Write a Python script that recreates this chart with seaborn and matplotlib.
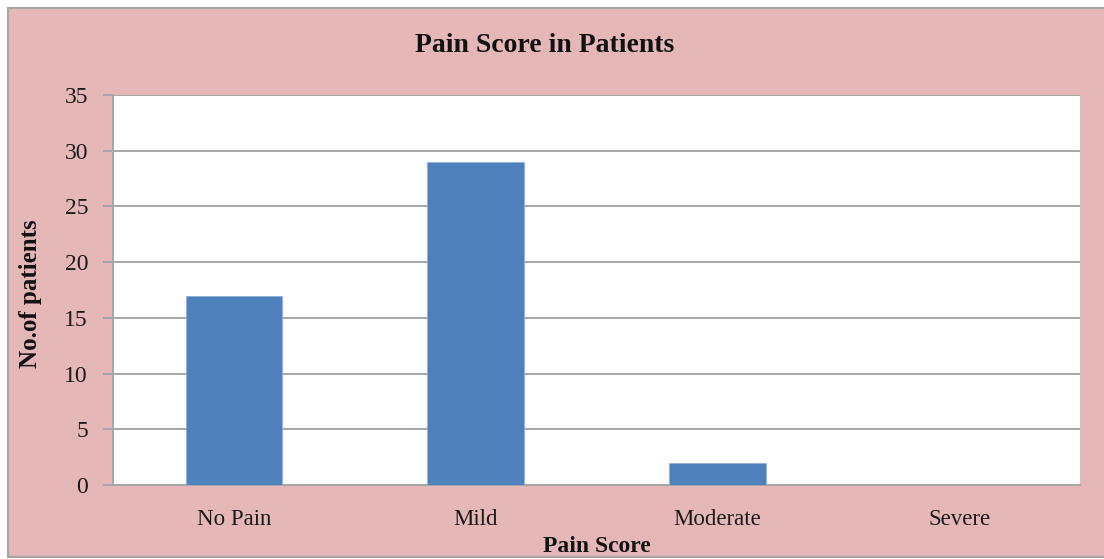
#Bar chart of pain score in patients, redrawn with seaborn.

import pandas as pd
import matplotlib
matplotlib.use('Agg')
import matplotlib.pyplot as plt
from matplotlib.patches import Rectangle
import seaborn as sns

#Data.
pain_scores = ['No Pain', 'Mild', 'Moderate', 'Severe']
patient_counts = [17, 29, 2, 0]
y_ticks = [0, 5, 10, 15, 20, 25, 30, 35]

df = pd.DataFrame({'Pain Score': pain_scores, 'Patients': patient_counts})

sns.set_theme(style='white')
plt.rcParams['font.family'] = ['Liberation Serif', 'DejaVu Serif']

grid_grey = '#A6A6A6'
pink = '#E6B7B7'
W, H = 1104, 559

fig = plt.figure(figsize=(W / 100, H / 100), dpi=100)
fig.patch.set_facecolor('white')

#Pink chart area with a thin grey frame, like the spreadsheet chart box.
frame = Rectangle((8 / W, 2 / H), 1.2, (H - 10) / H, transform=fig.transFigure,
                  facecolor=pink, edgecolor=grid_grey, linewidth=1.5, zorder=-5)
fig.patches.append(frame)

ax = fig.add_axes([113 / W, (H - 485) / H, (1080 - 113) / W, (485 - 95) / H])
ax.set_facecolor('white')

sns.barplot(data=df, x='Pain Score', y='Patients', color='#4F81BD', width=0.4,
            saturation=1, edgecolor='#8EB0DA', linewidth=0.6, ax=ax, zorder=3)

ax.set_ylim(0, 35)
ax.set_xlim(-0.5, 3.5)
ax.set_yticks(y_ticks)
ax.yaxis.grid(True, color=grid_grey, linewidth=1.4, zorder=0)
ax.set_axisbelow(True)

for side in ['top', 'right']:
    ax.spines[side].set_visible(False)
for side in ['left', 'bottom']:
    ax.spines[side].set_color(grid_grey)
    ax.spines[side].set_linewidth(1.4)

#Category labels sit between tick marks placed at the category boundaries.
ax.set_xticks([-0.5, 0.5, 1.5, 2.5, 3.5], minor=True)
ax.tick_params(axis='x', which='major', length=0, pad=17, labelsize=16.5, labelcolor='#1a1a1a')
ax.tick_params(axis='x', which='minor', length=6, width=1.4, color=grid_grey, direction='out')
ax.tick_params(axis='y', which='major', length=7, width=1.4, color=grid_grey, direction='out',
               left=True, pad=11, labelsize=17, labelcolor='#1a1a1a')

#Title is centred on the chart box rather than on the plot area.
fig.text(545 / W, 1 - 46 / H, 'Pain Score in Patients', fontsize=20, fontweight='bold',
         ha='center', va='center', color='#111111')

ax.set_xlabel('Pain Score', fontsize=17, fontweight='bold', color='#111111', va='center')
ax.xaxis.set_label_coords(0.5, (485 - 546) / 390)
ax.set_ylabel('No.of patients', fontsize=18, fontweight='bold', color='#111111', va='center')
ax.yaxis.set_label_coords((31 - 113) / 967, (485 - 294) / 390)

plt.savefig('out.png', dpi=100, facecolor=fig.get_facecolor())
